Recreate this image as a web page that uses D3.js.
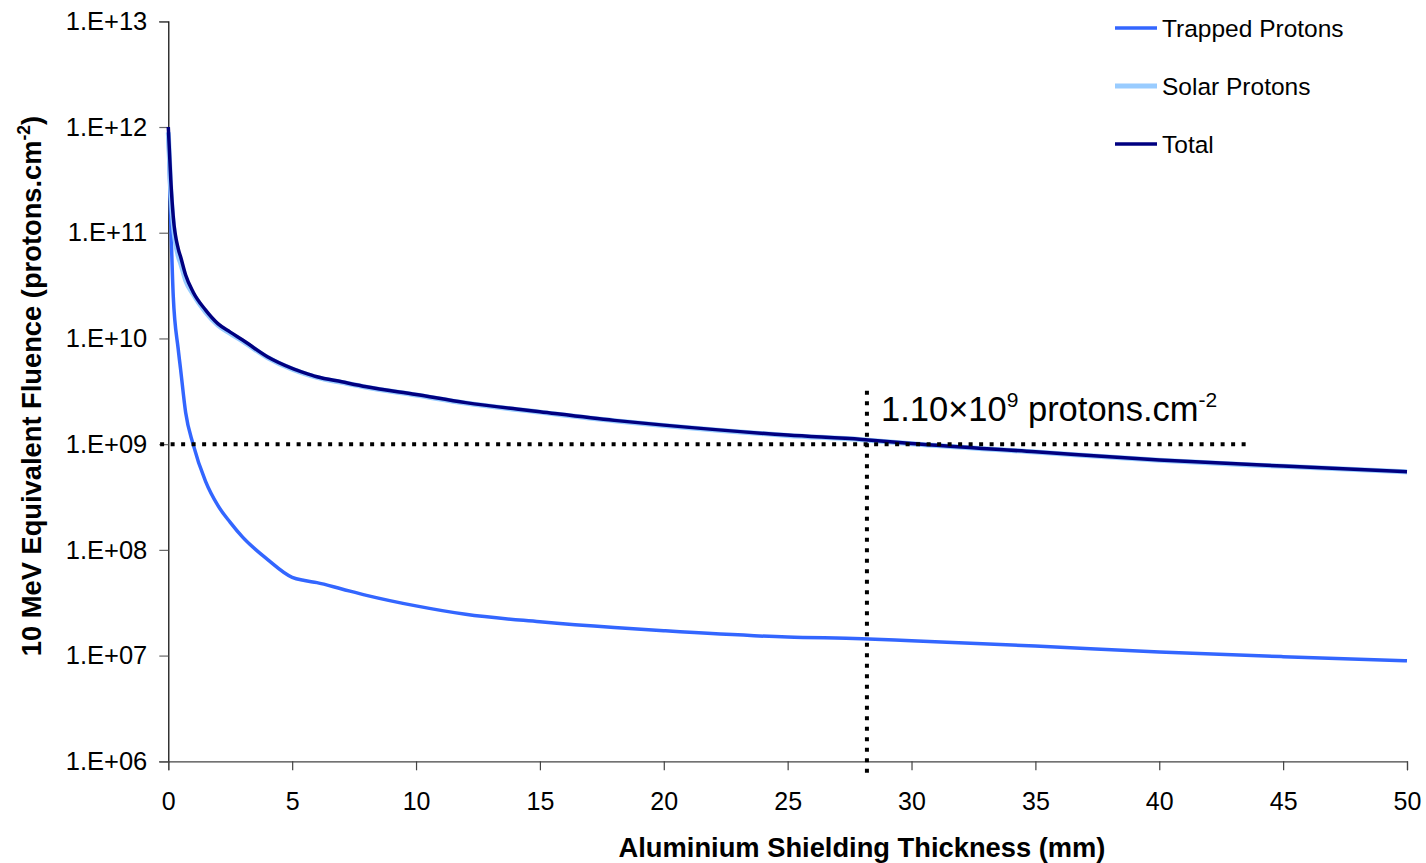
<!DOCTYPE html>
<html>
<head>
<meta charset="utf-8">
<script src="https://cdn.jsdelivr.net/npm/d3@7"></script>
<style>
  html, body { margin: 0; padding: 0; background: #fff; }
  svg { display: block; }
  text { font-family: "Liberation Sans", Arial, sans-serif; fill: #000; }
</style>
</head>
<body>
<svg id="chart" width="1426" height="863"></svg>
<script>
// ---- Data ----
const thickness = [0, 0.1, 0.2, 0.4, 0.5, 0.7, 1, 1.5, 2, 2.5, 3, 4, 5, 5.5, 6, 7, 8, 10, 12, 15, 18, 20, 25, 28, 30, 35, 40, 45, 50];
const trappedLog = [11.9, 11.1, 10.4, 9.9, 9.7, 9.3, 9.0, 8.65, 8.42, 8.26, 8.12, 7.91, 7.74, 7.71, 7.69, 7.63, 7.57, 7.47, 7.39, 7.32, 7.265, 7.235, 7.175, 7.16, 7.14, 7.09, 7.035, 6.99, 6.95];
const totalLog   = [12.0, 11.5, 11.15, 10.85, 10.77, 10.6, 10.44, 10.27, 10.14, 10.06, 9.985, 9.827, 9.717, 9.675, 9.638, 9.59, 9.543, 9.47, 9.393, 9.307, 9.225, 9.18, 9.086, 9.045, 9.007, 8.928, 8.85, 8.793, 8.74];
const solarLog   = [11.95, 11.4, 11.08, 10.78, 10.71, 10.55, 10.42, 10.25, 10.125, 10.048, 9.975, 9.82, 9.71, 9.668, 9.632, 9.584, 9.538, 9.465, 9.389, 9.303, 9.222, 9.177, 9.083, 9.042, 9.004, 8.925, 8.847, 8.79, 8.737];

const seriesNames  = ["Trapped Protons", "Solar Protons", "Total"];
const seriesColors = ["#3366FF", "#99CCFF", "#000080"];

const xTicks = [0, 5, 10, 15, 20, 25, 30, 35, 40, 45, 50];
const yTicks = [1e6, 1e7, 1e8, 1e9, 1e10, 1e11, 1e12, 1e13];

// annotation
const refFluence = 1e9;
const refHorizX = [-0.33, 43.7];
const markThickness = 28.2;
const markVertY = [3.2e9, 7e5];
const annotationMain = "1.10×10";
const annotationExp = "9";
const annotationUnit = " protons.cm";
const annotationUnitExp = "-2";

// ---- Drawing ----
const svg = d3.select("#chart");
const x = d3.scaleLinear().domain([0, 50]).range([168.3, 1407]);
const y = d3.scaleLog().domain([1e6, 1e13]).range([761.3, 21.3]);

// axes
const yAxis = d3.axisLeft(y).tickValues(yTicks).tickSize(9).tickPadding(12)
  .tickFormat(d => "1.E+" + String(Math.round(Math.log10(d))).padStart(2, "0"));
const gy = svg.append("g").attr("transform", `translate(${x(0)},0)`).call(yAxis);
gy.select(".domain").attr("stroke", "#000").attr("stroke-width", 1.2);
gy.selectAll(".tick line").attr("stroke", "#666").attr("stroke-width", 1.2);
gy.selectAll(".tick text").attr("font-size", 25.5).attr("font-family", "Liberation Sans, Arial, sans-serif").attr("fill", "#000");

const xAxis = d3.axisBottom(x).tickValues(xTicks).tickSize(9).tickPadding(22).tickFormat(d3.format("d"));
const gx = svg.append("g").attr("transform", `translate(0,${y(1e6)})`).call(xAxis);
gx.select(".domain").attr("stroke", "#444").attr("stroke-width", 1.2);
gx.selectAll(".tick line").attr("stroke", "#444").attr("stroke-width", 1.2);
gx.selectAll(".tick text").attr("font-size", 25).attr("font-family", "Liberation Sans, Arial, sans-serif").attr("fill", "#000");

// axis titles
svg.append("text").attr("x", 862).attr("y", 857).attr("text-anchor", "middle")
  .attr("font-size", 27.3).attr("font-weight", "bold").text("Aluminium Shielding Thickness (mm)");

const yt = svg.append("text").attr("transform", "translate(41,386) rotate(-90)")
  .attr("text-anchor", "middle").attr("font-size", 27.3).attr("font-weight", "bold");
yt.append("tspan").text("10 MeV Equivalent Fluence (protons.cm");
yt.append("tspan").attr("font-size", 17.5).attr("dy", -11).text("-2");
yt.append("tspan").attr("dy", 11).text(")");

// lines
const line = d3.line().x(d => x(d[0])).y(d => y(Math.pow(10, d[1]))).curve(d3.curveMonotoneX);
const seriesData = [
  thickness.map((t, i) => [t, trappedLog[i]]),
  thickness.map((t, i) => [t, solarLog[i]]),
  thickness.map((t, i) => [t, totalLog[i]])
];
const widths = [3.5, 5, 3.5];
seriesData.forEach((d, i) => {
  svg.append("path").datum(d).attr("d", line).attr("fill", "none")
    .attr("stroke", seriesColors[i]).attr("stroke-width", widths[i])
    .attr("stroke-linejoin", "round");
});

// dotted reference lines
svg.append("line")
  .attr("x1", x(refHorizX[0])).attr("x2", x(refHorizX[1]))
  .attr("y1", y(refFluence)).attr("y2", y(refFluence))
  .attr("stroke", "#000").attr("stroke-width", 4).attr("stroke-dasharray", "4,6.5");
svg.append("line")
  .attr("x1", x(markThickness)).attr("x2", x(markThickness))
  .attr("y1", y(markVertY[0])).attr("y2", y(markVertY[1]))
  .attr("stroke", "#000").attr("stroke-width", 4).attr("stroke-dasharray", "4,6.5");

// annotation text
const at = svg.append("text").attr("x", 881).attr("y", 421)
  .attr("font-family", "Open Sans, Noto Sans, sans-serif").attr("font-size", 34.5);
at.append("tspan").text(annotationMain);
at.append("tspan").attr("font-size", 21).attr("dy", -14).text(annotationExp);
at.append("tspan").attr("dy", 14).text(annotationUnit);
at.append("tspan").attr("font-size", 21).attr("dy", -14).text(annotationUnitExp);

// legend
const legend = svg.append("g");
seriesNames.forEach((name, i) => {
  const ly = 28 + i * 58;
  legend.append("line").attr("x1", 1115).attr("x2", 1157).attr("y1", ly).attr("y2", ly)
    .attr("stroke", seriesColors[i]).attr("stroke-width", widths[i]);
  legend.append("text").attr("x", 1162).attr("y", ly + 8.5).attr("font-size", 24.5).text(name);
});
</script>
</body>
</html>
